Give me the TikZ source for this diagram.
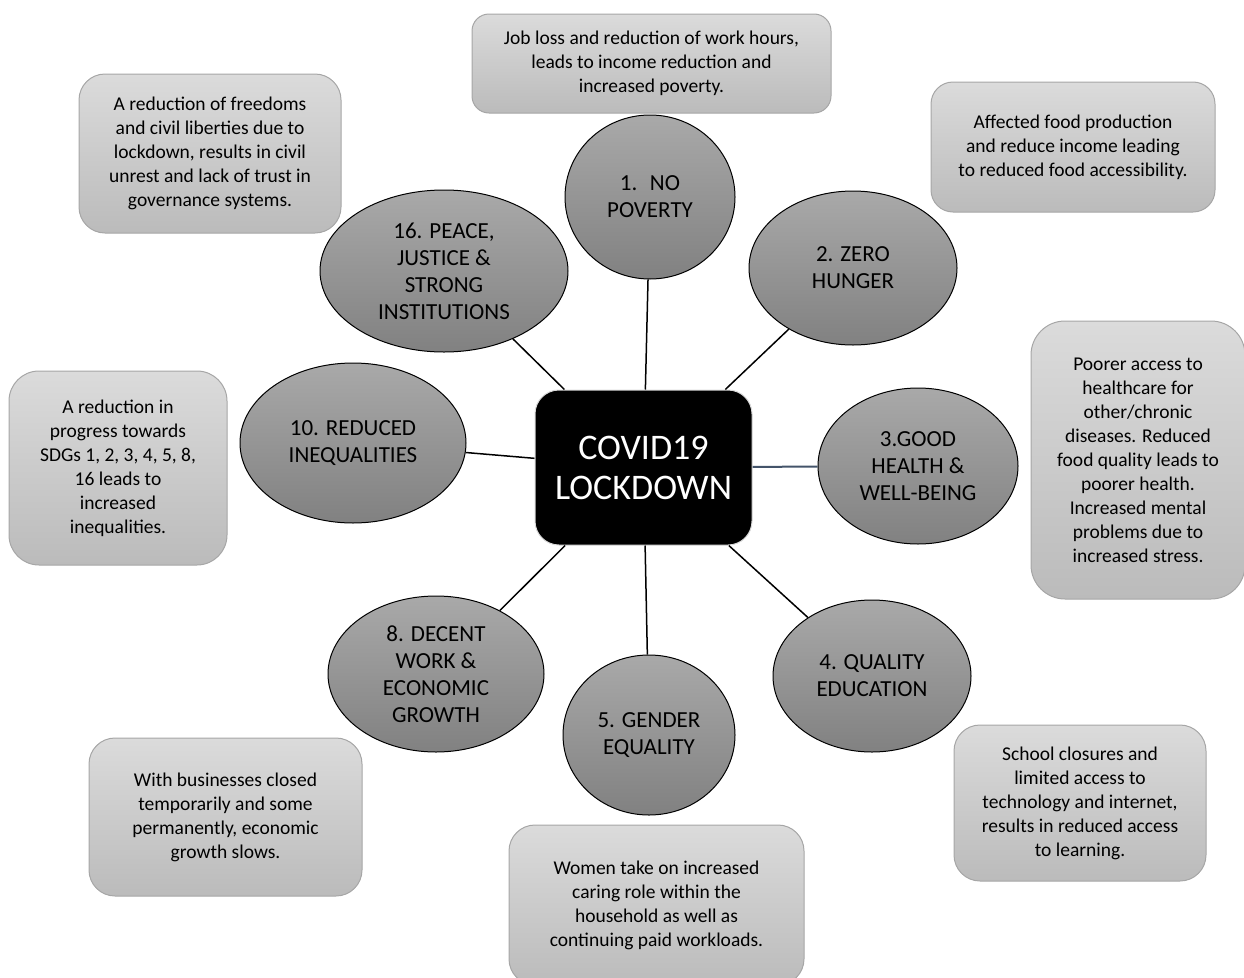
\documentclass[tikz,border=0pt]{standalone}
\usepackage{fontspec}
\setmainfont{Carlito}
\usetikzlibrary{shapes.geometric}

\definecolor{notetop}{HTML}{DBDBDB}
\definecolor{notebot}{HTML}{BBBBBB}
\definecolor{notedraw}{HTML}{A6A6A6}
\definecolor{goaltop}{HTML}{A9A9A9}
\definecolor{goalbot}{HTML}{818181}
\definecolor{slate}{HTML}{44546A}

\tikzset{
  note/.style={rectangle, draw=notedraw, line width=1pt, top color=notetop,
    bottom color=notebot, align=center, inner sep=0pt,
    font=\fontsize{19.5}{24}\selectfont},
  goal/.style={ellipse, draw=black, line width=1pt, top color=goaltop,
    bottom color=goalbot, align=center, inner sep=0pt,
    font=\fontsize{23}{27}\selectfont},
  hub/.style={rectangle, draw=black!15, line width=1pt, fill=black,
    text=white, rounded corners=24pt, align=center,
    minimum width=217pt, minimum height=155pt,
    font=\fontsize{36}{40}\selectfont},
  link/.style={line width=1.5pt}
}

\begin{document}
\begin{tikzpicture}[x=1pt, y=-1pt]
  \useasboundingbox (0,0) rectangle (1244,977);
  \clip (0,0) rectangle (1244,977);

  % centre
  \node[hub] (covid) at (643.5,467.5) {COVID19\\LOCKDOWN};

  % goals
  \node[goal, minimum width=170pt, minimum height=164pt] (sdg1) at (650,197) {1.\hspace{0.55em}NO\\POVERTY};
  \node[goal, minimum width=208pt, minimum height=154pt] (sdg2) at (853,268) {2. ZERO\\HUNGER};
  \node[goal, minimum width=200pt, minimum height=156pt] (sdg3) at (918,466) {3.GOOD\\HEALTH \&\\WELL-BEING};
  \node[goal, minimum width=198pt, minimum height=152pt] (sdg4) at (872,676) {4. QUALITY\\EDUCATION};
  \node[goal, minimum width=172pt, minimum height=160pt] (sdg5) at (649,735) {5. GENDER\\EQUALITY};
  \node[goal, minimum width=216pt, minimum height=156pt] (sdg8) at (436,674) {8. DECENT\\WORK \&\\ECONOMIC\\GROWTH};
  \node[goal, minimum width=226pt, minimum height=160pt] (sdg10) at (353,443) {10. REDUCED\\INEQUALITIES};
  \node[goal, minimum width=248pt, minimum height=162pt] (sdg16) at (444,271) {16. PEACE,\\JUSTICE \&\\STRONG\\INSTITUTIONS};

  % notes
  \node[note, rounded corners=17pt, minimum width=359pt, minimum height=99pt] (note1) at (651.5,63.5)
    {Job loss and reduction of work hours,\\leads to income reduction and\\increased poverty.};
  \node[note, rounded corners=22pt, minimum width=284pt, minimum height=130pt] (note2) at (1073,147)
    {Affected food production\\and reduce income leading\\to reduced food accessibility.};
  \node[note, rounded corners=34pt, minimum width=214pt, minimum height=278pt] (note3) at (1138,460)
    {Poorer access to\\healthcare for\\other/chronic\\diseases. Reduced\\food quality leads to\\poorer health.\\Increased mental\\problems due to\\increased stress.};
  \node[note, rounded corners=26pt, minimum width=252pt, minimum height=156pt] (note4) at (1080,803)
    {School closures and\\limited access to\\technology and internet,\\results in reduced access\\to learning.};
  \node[note, rounded corners=26pt, minimum width=295pt, minimum height=160pt] (note5) at (656.5,905)
    {Women take on increased\\caring role within the\\household as well as\\continuing paid workloads.};
  \node[note, rounded corners=26pt, minimum width=273pt, minimum height=158pt] (note8) at (225.5,817)
    {With businesses closed\\temporarily and some\\permanently, economic\\growth slows.};
  \node[note, rounded corners=30pt, minimum width=218pt, minimum height=194pt] (note10) at (118,468)
    {A reduction in\\progress towards\\SDGs 1, 2, 3, 4, 5, 8,\\16 leads to\\increased\\inequalities.};
  \node[note, rounded corners=26pt, minimum width=262pt, minimum height=159pt] (note16) at (210,153.5)
    {A reduction of freedoms\\and civil liberties due to\\lockdown, results in civil\\unrest and lack of trust in\\governance systems.};

  % links
  \foreach \g in {sdg1,sdg2,sdg4,sdg5,sdg8,sdg10,sdg16}
    \draw[link] (covid) -- (\g);
  \draw[link, draw=slate, line width=2pt] (covid) -- (sdg3);
\end{tikzpicture}
\end{document}
